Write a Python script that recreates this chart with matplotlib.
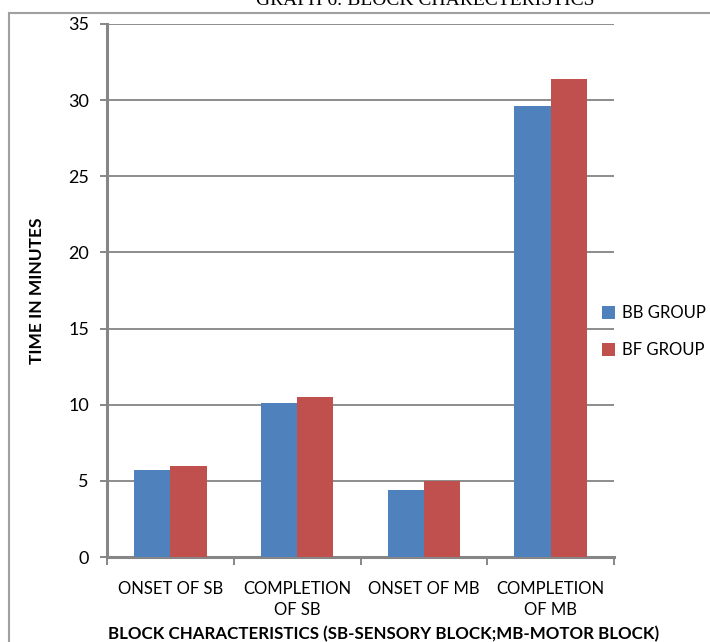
import matplotlib.pyplot as plt
import numpy as np
from matplotlib.patches import Rectangle

# block timings in minutes
categories = ['ONSET OF SB', 'COMPLETION\nOF SB', 'ONSET OF MB', 'COMPLETION\nOF MB']
bb_group = [5.7, 10.1, 4.4, 29.6]
bf_group = [5.95, 10.5, 5.0, 31.4]
series_names = ['BB GROUP', 'BF GROUP']
yticks = [0, 5, 10, 15, 20, 25, 30, 35]

blue = '#4F81BD'
red = '#C0504D'
grid_grey = '#8C8C8C'

plt.rcParams['font.family'] = ['Lato', 'DejaVu Sans']

fig = plt.figure(figsize=(7.10, 6.42), dpi=100)
ax = fig.add_axes([107 / 710, 1 - 557 / 642, 507 / 710, 533 / 642])

x = np.arange(len(categories))
w = 0.286
ax.bar(x - w / 2, bb_group, w, color=blue, label=series_names[0], zorder=3)
ax.bar(x + w / 2, bf_group, w, color=red, label=series_names[1], zorder=3)

ax.set_xlim(-0.5, len(categories) - 0.5)
ax.set_ylim(0, 35)
ax.set_yticks(yticks)
ax.yaxis.grid(True, color=grid_grey, linewidth=1.4)
ax.set_axisbelow(True)

for side in ['top', 'right']:
    ax.spines[side].set_visible(False)
for side in ['left', 'bottom']:
    ax.spines[side].set_color('#868686')
    ax.spines[side].set_linewidth(2.2)

ax.set_xticks(x)
ax.set_xticklabels(categories, fontsize=12, linespacing=1.45)
ax.set_xticks(np.arange(len(categories) + 1) - 0.5, minor=True)
ax.tick_params(axis='x', which='major', length=0, pad=17)
ax.tick_params(axis='x', which='minor', length=6, width=1.4, color='#868686')
ax.tick_params(axis='y', length=5, width=1.4, color='#868686', labelsize=13, pad=8)

ax.set_ylabel('TIME IN MINUTES', fontsize=12.5, fontweight='bold')
ax.yaxis.set_label_coords(-0.122, 0.5)
ax.set_xlabel('BLOCK CHARACTERISTICS (SB-SENSORY BLOCK;MB-MOTOR BLOCK)',
              fontsize=12.2, fontweight='bold')
ax.xaxis.set_label_coords(0.546, -0.13)

ax.legend(loc='center left', bbox_to_anchor=(0.963, 0.423), frameon=False,
          fontsize=12, borderaxespad=0, handlelength=0.8, handleheight=0.8,
          handletextpad=0.4, labelspacing=1.25)

# outer frame around the chart area
fig.patches.append(Rectangle((9 / 710, -0.1), 1.2, 1 - 13 / 642 + 0.1,
                             transform=fig.transFigure, fill=False,
                             edgecolor='#A0A0A0', linewidth=1.5))

fig.text(425 / 710, 1 - 5 / 642, 'GRAPH 6: BLOCK CHARECTERISTICS',
         family='Liberation Serif', fontsize=14, ha='center', va='baseline')

fig.savefig('out.png', dpi=100)
